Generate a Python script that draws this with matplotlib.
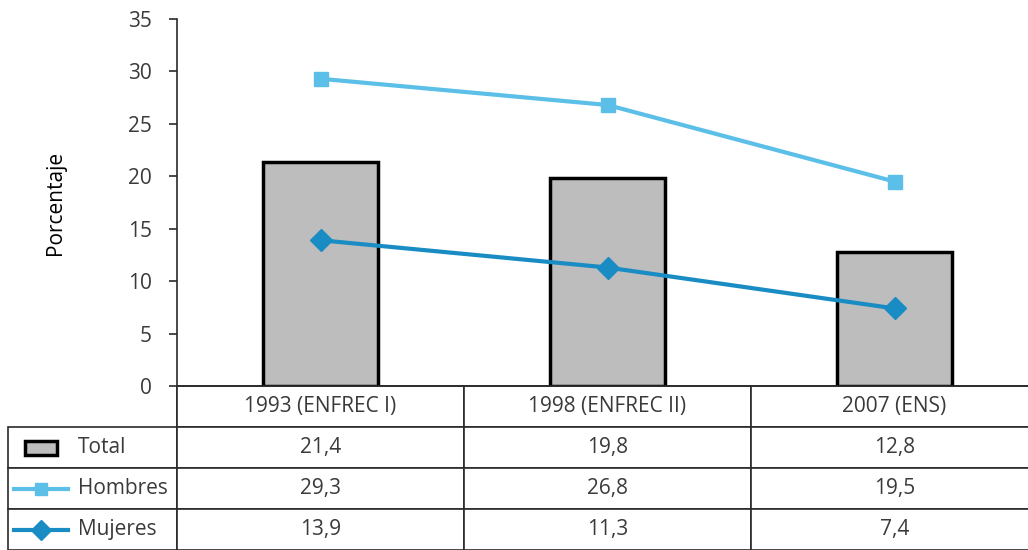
import matplotlib.pyplot as plt
from matplotlib.patches import Rectangle

categories = ["1993 (ENFREC I)", "1998 (ENFREC II)", "2007 (ENS)"]
total = [21.4, 19.8, 12.8]
hombres = [29.3, 26.8, 19.5]
mujeres = [13.9, 11.3, 7.4]
series_names = ["Total", "Hombres", "Mujeres"]
y_ticks = [0, 5, 10, 15, 20, 25, 30, 35]

BAR_GRAY = "#BDBDBD"
LIGHT_BLUE = "#5BBFE8"
DARK_BLUE = "#1A8CC4"
TEXT = "#3A3A3A"
LINE = "#2A2A2A"


def fmt(v: float) -> str:
    return f"{v:.1f}".replace(".", ",")


plt.rcParams.update({"font.family": ["Open Sans", "DejaVu Sans"], "font.size": 15})

W, H = 1028, 550
fig = plt.figure(figsize=(W / 100, H / 100), dpi=100)
# axes spans one column past the right edge (the reference is cropped there)
ax = fig.add_axes([177 / W, (H - 386) / H, 861 / W, 367 / H])

x = list(range(len(categories)))
ax.bar(x, total, width=0.4, color=BAR_GRAY, edgecolor="black", linewidth=2.5, zorder=2)
ax.plot(x, hombres, color=LIGHT_BLUE, lw=3, marker="s", markersize=10, zorder=3)
ax.plot(x, mujeres, color=DARK_BLUE, lw=3, marker="D", markersize=11, zorder=3)

ax.set_xlim(-0.5, len(categories) - 0.5)
ax.set_ylim(0, 35)
ax.set_yticks(y_ticks)
ax.set_xticks([])
ax.tick_params(axis="y", direction="out", length=6, width=1.2, colors=LINE,
               labelcolor=TEXT, labelsize=15, pad=12)
for side in ("top", "right"):
    ax.spines[side].set_visible(False)
ax.spines["left"].set_color(LINE)
ax.spines["left"].set_linewidth(1.2)
ax.spines["bottom"].set_color(LINE)
ax.spines["bottom"].set_linewidth(1.2)
ax.set_ylabel("Porcentaje", color="black", fontsize=15)
ax.yaxis.set_label_coords((66 - 177) / 861, 0.5)

# data table under the plot; first column holds the series names
cell_text = [[name] + [fmt(v) for v in row]
             for name, row in zip(series_names, (total, hombres, mujeres))]
tbl_h = 164 / 367
tbl_x0 = (8 - 177) / 861
tbl = ax.table(
    cellText=cell_text,
    colLabels=[""] + categories,
    colWidths=[169, 287, 287, 287],
    cellLoc="center",
    bbox=[tbl_x0, -tbl_h, 1 - tbl_x0, tbl_h],
)
tbl.auto_set_font_size(False)
tbl.set_fontsize(15)
for (r, c), cell in tbl.get_celld().items():
    cell.set_edgecolor(LINE)
    cell.set_linewidth(1.2)
    cell.get_text().set_color(TEXT)
    if c == 0:
        if r == 0:
            cell.visible_edges = "R"
        else:
            cell.get_text().set_horizontalalignment("left")
            cell.PAD = 70 / 169

# legend glyphs in the name column
row_h = tbl_h / 4
gx = tbl_x0 + (41 - 8) / 861
for i, name in enumerate(series_names):
    yc = -row_h * (i + 1.5)
    if name == "Total":
        ax.add_patch(Rectangle((gx - 16 / 861, yc - 7 / 367), 32 / 861, 14 / 367,
                               transform=ax.transAxes, clip_on=False,
                               facecolor=BAR_GRAY, edgecolor="black", linewidth=2.5))
    else:
        color = LIGHT_BLUE if name == "Hombres" else DARK_BLUE
        mk = "s" if name == "Hombres" else "D"
        ms = 9 if name == "Hombres" else 10
        ax.plot([gx - 27 / 861, gx + 27 / 861], [yc, yc], transform=ax.transAxes,
                clip_on=False, color=color, lw=3)
        ax.plot([gx], [yc], transform=ax.transAxes, clip_on=False,
                color=color, marker=mk, markersize=ms)

fig.savefig("out.png", dpi=100)
